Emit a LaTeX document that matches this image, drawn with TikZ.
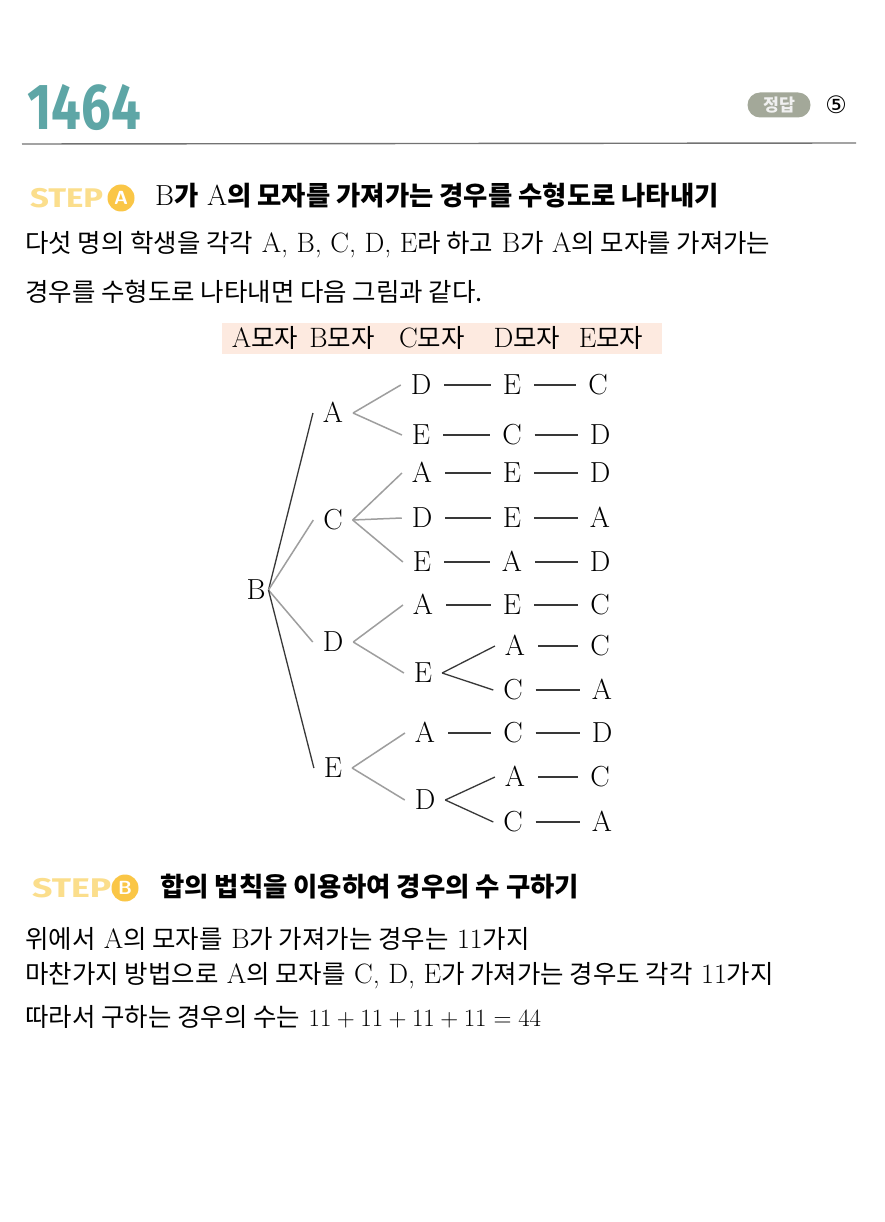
\documentclass[tikz,border=0pt]{standalone}
\usepackage{fontspec}
\newfontfamily\kr{Noto Sans CJK KR}[Scale=0.91]
\newfontfamily\numfont{Fira Sans}
\newfontfamily\symfont{DejaVu Sans}
\newfontfamily\stepfont{Fira Sans}
\newcommand\K[1]{{\kr #1}}
\newcommand\KB[1]{{\kr\bfseries #1}}
\definecolor{teal1464}{RGB}{94,166,166}
\definecolor{stepyel}{RGB}{251,222,140}
\definecolor{stepcirc}{RGB}{250,198,70}
\definecolor{pillgray}{RGB}{163,168,153}
\definecolor{peach}{RGB}{253,234,224}
\begin{document}
\begin{tikzpicture}[x=1pt,y=-1pt,
  tn/.style={font=\fontsize{29}{32}\selectfont, inner sep=2pt, outer xsep=8pt, outer ysep=0pt, text height=19.8pt, text depth=0pt},
  dk/.style={draw=black!78, line width=1.3pt},
  gr/.style={draw=black!38, line width=1.5pt},
  body/.style={anchor=west, inner sep=0pt, font=\fontsize{28}{32}\selectfont},
  head/.style={anchor=west, inner sep=0pt, font=\fontsize{29}{32}\selectfont},
  steptxt/.style={anchor=west, inner sep=0pt, text=stepyel, font=\stepfont\bfseries\fontsize{27}{28}\selectfont},
  stepdot/.style={circle, fill=stepcirc, text=white, inner sep=0pt, minimum size=27pt, font=\fontsize{19}{20}\selectfont\sffamily\bfseries},
]
\useasboundingbox (0,0) rectangle (884,1222);
\fill[white] (0,0) rectangle (884,1222);

% title
\node[anchor=west, inner sep=0pt, text=teal1464, font=\numfont\bfseries\fontsize{65}{66}\selectfont] (title) at (27,108) {\scalebox{0.81}[1]{1464}};
\node[rounded corners=12.5pt, fill=pillgray, minimum width=63pt, minimum height=25pt, inner sep=0pt, text=white!88!gray, font=\kr\bfseries\fontsize{19}{20}\selectfont] (pill) at (779,105) {정답};
\node[inner sep=0pt, font=\symfont\fontsize{24}{26}\selectfont] (ans) at (836,105) {⑤};
\coordinate (ruleL) at (22,144);
\coordinate (ruleR) at (856,143);
\draw[black!55, line width=1.4pt] (ruleL) -- (ruleR);

% STEP A
\node[steptxt] (stepA) at (30,198) {\scalebox{1.22}[1]{STEP}};
\node[stepdot] (stepAc) at (121,198) {A};
\node[head] (headA) at (155,196) {B\KB{가} A\KB{의 모자를 가져가는 경우를 수형도로 나타내기}};
\node[body] (l1) at (25,245) {\K{다섯 명의 학생을 각각} A, B, C, D, E\K{라 하고} B\K{가} A\K{의 모자를 가져가는}};
\node[body] (l2) at (25,292) {\K{경우를 수형도로 나타내면 다음 그림과 같다.}};

% header band
\fill[peach] (222,323) rectangle (662,354);
\foreach \x/\L in {265/A,342/B,432/C,527/D,611/E}{
  \node[inner sep=0pt, font=\fontsize{28}{30}\selectfont] (h\L) at (\x,338) {\L\K{모자}};
}

% tree nodes
\node[tn, outer xsep=1pt] (b) at (256,590) {B};
\node[tn] (a1) at (333,413) {A};
\node[tn] (c1) at (333,520) {C};
\node[tn] (d1) at (333,642) {D};
\node[tn] (e1) at (333,768) {E};
% level 2
\node[tn] (aD) at (421,385) {D};
\node[tn] (aE) at (421,435) {E};
\node[tn] (cA) at (422,473) {A};
\node[tn] (cD) at (422,518) {D};
\node[tn] (cE) at (422,562) {E};
\node[tn] (dA) at (423,605) {A};
\node[tn] (dE) at (423,673) {E};
\node[tn] (eA) at (425,733) {A};
\node[tn] (eD) at (425,800) {D};
% level 3
\node[tn] (aDE) at (512,385) {E};
\node[tn] (aEC) at (512,435) {C};
\node[tn] (cAE) at (512,473) {E};
\node[tn] (cDE) at (512,518) {E};
\node[tn] (cEA) at (512,562) {A};
\node[tn] (dAE) at (512,605) {E};
\node[tn] (dEA) at (515,646) {A};
\node[tn] (dEC) at (513,690) {C};
\node[tn] (eAC) at (513,733) {C};
\node[tn] (eDA) at (515,777) {A};
\node[tn] (eDC) at (513,822) {C};
% level 4
\node[tn] (aDEC) at (598,385) {C};
\node[tn] (aECD) at (600,435) {D};
\node[tn] (cAED) at (600,473) {D};
\node[tn] (cDEA) at (600,518) {A};
\node[tn] (cEAD) at (600,562) {D};
\node[tn] (dAEC) at (600,605) {C};
\node[tn] (dEAC) at (600,646) {C};
\node[tn] (dECA) at (602,690) {A};
\node[tn] (eACD) at (602,733) {D};
\node[tn] (eDAC) at (600,777) {C};
\node[tn] (eDCA) at (602,822) {A};

% B branches
\draw[dk] (b.east) -- (a1.west);
\draw[gr] (b.east) -- (c1.west);
\draw[gr] (b.east) -- (d1.west);
\draw[dk] (b.east) -- (e1.west);
% level1 branches
\draw[gr] (a1.east) -- (aD.west);
\draw[gr] (a1.east) -- (aE.west);
\draw[gr] (c1.east) -- (cA.west);
\draw[gr] (c1.east) -- (cD.west);
\draw[gr] (c1.east) -- (cE.west);
\draw[gr] (d1.east) -- (dA.west);
\draw[gr] (d1.east) -- (dE.west);
\draw[gr] (e1.east) -- (eA.west);
\draw[gr] (e1.east) -- (eD.west);
% level2 branches
\draw[dk] (dE.east) -- (dEA.west);
\draw[dk] (dE.east) -- (dEC.west);
\draw[dk] (eD.east) -- (eDA.west);
\draw[dk] (eD.east) -- (eDC.west);
% dashes
\foreach \u/\v in {aD/aDE,aDE/aDEC,aE/aEC,aEC/aECD,cA/cAE,cAE/cAED,cD/cDE,cDE/cDEA,cE/cEA,cEA/cEAD,dA/dAE,dAE/dAEC,dEA/dEAC,dEC/dECA,eA/eAC,eAC/eACD,eDA/eDAC,eDC/eDCA}{
  \draw[dk] ([xshift=3pt]\u.east) -- ([xshift=-2pt]\v.west);
}

% STEP B
\node[steptxt] (stepB) at (32,888) {\scalebox{1.32}[1]{STEP}};
\node[stepdot] (stepBc) at (125,888) {B};
\node[head] (headB) at (160,887) {\KB{합의 법칙을 이용하여 경우의 수 구하기}};
\node[body] (m1) at (25,939) {\K{위에서} A\K{의 모자를} B\K{가 가져가는 경우는} 11\K{가지}};
\node[body] (m2) at (25,976) {\K{마찬가지 방법으로} A\K{의 모자를} C, D, E\K{가 가져가는 경우도 각각} 11\K{가지}};
\node[body] (m3) at (25,1017) {\K{따라서 구하는 경우의 수는} $11+11+11+11=44$};
\end{tikzpicture}
\end{document}
